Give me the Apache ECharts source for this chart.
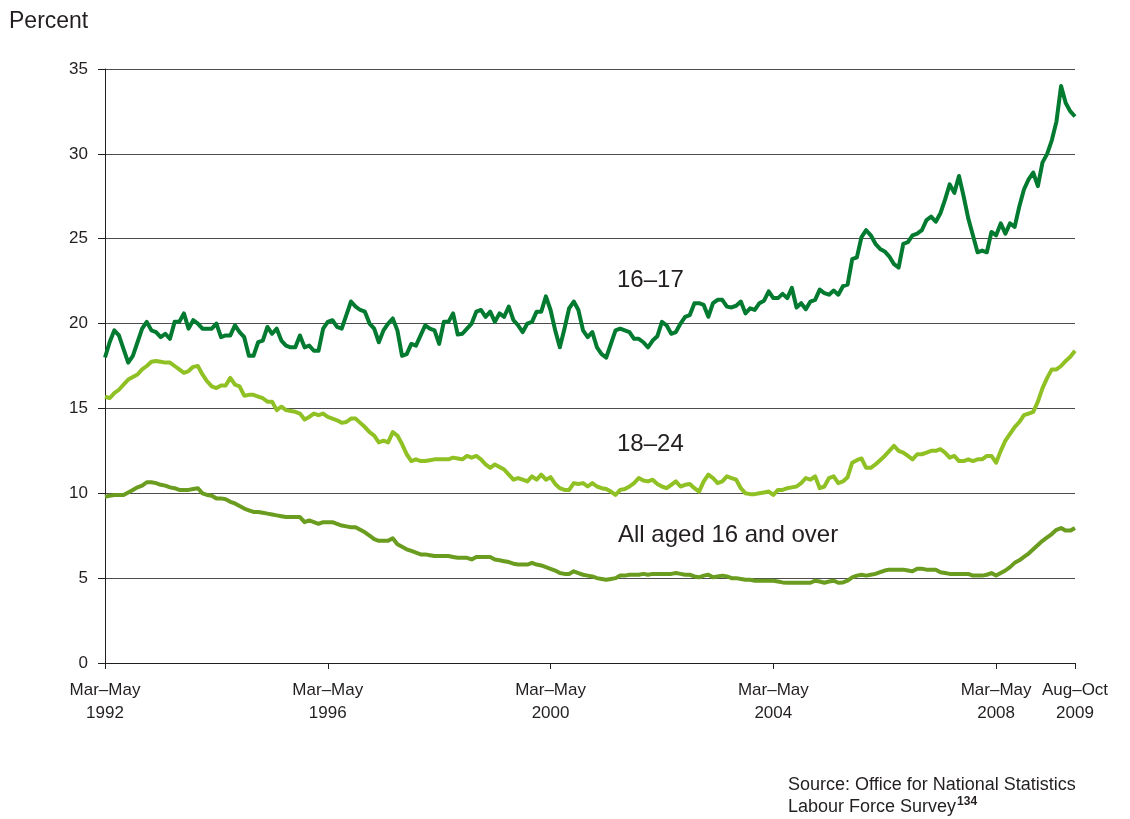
<!DOCTYPE html>
<html>
<head>
<meta charset="utf-8">
<script src="https://cdn.jsdelivr.net/npm/echarts@6/dist/echarts.min.js"></script>
<style>
  html, body { margin: 0; padding: 0; background: #fff; }
  #chart { width: 1130px; height: 819px; }
</style>
</head>
<body>
<div id="chart"></div>
<script>
// rolling quarters, Mar-May 1992 .. Aug-Oct 2009
const quarterNames = ['Jan–Mar', 'Feb–Apr', 'Mar–May', 'Apr–Jun', 'May–Jul', 'Jun–Aug',
  'Jul–Sep', 'Aug–Oct', 'Sep–Nov', 'Oct–Dec', 'Nov–Jan', 'Dec–Feb']
const startYear = 1992
const startMonth = 2   // Mar-May
const labelIndexes = [0, 48, 96, 144, 192, 209]

// 16-17
const age1617 = [
  18.0, 18.9, 19.6, 19.3, 18.5, 17.7, 18.1, 18.9, 19.7, 20.1,
  19.6, 19.5, 19.2, 19.4, 19.1, 20.1, 20.1, 20.6, 19.7, 20.2,
  20.0, 19.7, 19.7, 19.7, 20.0, 19.2, 19.3, 19.3, 19.9, 19.5,
  19.2, 18.1, 18.1, 18.9, 19.0, 19.8, 19.4, 19.7, 19.0, 18.7,
  18.6, 18.6, 19.3, 18.6, 18.7, 18.4, 18.4, 19.7, 20.1, 20.2,
  19.8, 19.7, 20.5, 21.3, 21.0, 20.8, 20.7, 20.0, 19.7, 18.9,
  19.6, 20.0, 20.3, 19.6, 18.1, 18.2, 18.8, 18.7, 19.3, 19.9,
  19.7, 19.6, 18.8, 20.1, 20.1, 20.6, 19.35, 19.4, 19.7, 20.0,
  20.7, 20.8, 20.4, 20.7, 20.1, 20.6, 20.4, 21.0, 20.2, 19.9,
  19.5, 20.0, 20.1, 20.7, 20.7, 21.6, 20.8, 19.6, 18.6, 19.7,
  20.9, 21.3, 20.8, 19.6, 19.2, 19.5, 18.6, 18.2, 18.0, 18.8,
  19.6, 19.7, 19.6, 19.5, 19.1, 19.1, 18.9, 18.6, 19.0, 19.25,
  20.1, 19.9, 19.4, 19.5, 20.0, 20.4, 20.5, 21.2, 21.2, 21.1,
  20.4, 21.2, 21.4, 21.4, 21.0, 20.95, 21.05, 21.3, 20.6, 20.9,
  20.8, 21.2, 21.35, 21.9, 21.5, 21.5, 21.75, 21.5, 22.1, 20.95,
  21.2, 20.85, 21.3, 21.4, 22.0, 21.8, 21.7, 21.95, 21.7, 22.2,
  22.3, 23.8, 23.9, 25.1, 25.5, 25.2, 24.7, 24.4, 24.25, 23.95,
  23.5, 23.3, 24.7, 24.8, 25.2, 25.3, 25.5, 26.1, 26.3, 26.0,
  26.5, 27.3, 28.2, 27.7, 28.7, 27.5, 26.2, 25.2, 24.2, 24.3,
  24.2, 25.4, 25.2, 25.9, 25.3, 25.9, 25.7, 26.9, 27.9, 28.5,
  28.9, 28.1, 29.5, 30.0, 30.8, 31.9, 34.0, 33.0, 32.5, 32.2
]

// 18-24
const age1824 = [
  15.7, 15.6, 15.9, 16.1, 16.4, 16.7, 16.85, 17.0, 17.3, 17.5,
  17.75, 17.8, 17.75, 17.7, 17.7, 17.5, 17.3, 17.1, 17.2, 17.45,
  17.5, 17.0, 16.6, 16.3, 16.2, 16.35, 16.35, 16.8, 16.4, 16.3,
  15.75, 15.8, 15.8, 15.7, 15.6, 15.4, 15.4, 14.9, 15.1, 14.9,
  14.85, 14.8, 14.7, 14.35, 14.5, 14.7, 14.6, 14.7, 14.5, 14.4,
  14.3, 14.15, 14.2, 14.4, 14.4, 14.15, 13.9, 13.6, 13.4, 13.0,
  13.1, 13.0, 13.6, 13.4, 12.9, 12.3, 11.9, 12.0, 11.9, 11.9,
  11.95, 12.0, 12.0, 12.0, 12.0, 12.1, 12.05, 12.0, 12.2, 12.1,
  12.2, 12.0, 11.7, 11.5, 11.7, 11.55, 11.4, 11.1, 10.8, 10.9,
  10.8, 10.7, 11.0, 10.8, 11.1, 10.8, 10.95, 10.55, 10.3, 10.2,
  10.2, 10.6, 10.55, 10.6, 10.4, 10.6, 10.4, 10.3, 10.25, 10.1,
  9.9, 10.2, 10.25, 10.4, 10.6, 10.9, 10.75, 10.7, 10.8, 10.55,
  10.4, 10.3, 10.5, 10.7, 10.4, 10.5, 10.55, 10.3, 10.1, 10.7,
  11.1, 10.9, 10.6, 10.7, 11.0, 10.9, 10.8, 10.3, 10.0, 9.95,
  9.95, 10.0, 10.05, 10.1, 9.9, 10.2, 10.2, 10.3, 10.35, 10.4,
  10.6, 10.9, 10.8, 11.0, 10.3, 10.4, 10.9, 11.0, 10.6, 10.7,
  10.95, 11.8, 11.95, 12.05, 11.5, 11.5, 11.7, 11.95, 12.2, 12.5,
  12.8, 12.5, 12.4, 12.2, 12.0, 12.3, 12.3, 12.4, 12.5, 12.5,
  12.6, 12.4, 12.1, 12.2, 11.9, 11.9, 12.0, 11.9, 12.0, 12.0,
  12.2, 12.2, 11.8, 12.5, 13.1, 13.5, 13.9, 14.2, 14.6, 14.7,
  14.8, 15.4, 16.2, 16.8, 17.3, 17.3, 17.5, 17.8, 18.05, 18.4
]

// all aged 16 and over
const ageAll = [
  9.8, 9.85, 9.9, 9.9, 9.9, 10.05, 10.2, 10.35, 10.45, 10.65,
  10.65, 10.6, 10.5, 10.45, 10.35, 10.3, 10.2, 10.2, 10.2, 10.25,
  10.3, 10.0, 9.9, 9.85, 9.7, 9.7, 9.65, 9.5, 9.4, 9.25,
  9.1, 9.0, 8.9, 8.9, 8.85, 8.8, 8.75, 8.7, 8.65, 8.6,
  8.6, 8.6, 8.6, 8.3, 8.4, 8.3, 8.2, 8.3, 8.3, 8.3,
  8.2, 8.1, 8.05, 8.0, 8.0, 7.85, 7.7, 7.5, 7.3, 7.2,
  7.2, 7.2, 7.35, 7.0, 6.85, 6.7, 6.6, 6.5, 6.4, 6.4,
  6.35, 6.3, 6.3, 6.3, 6.3, 6.25, 6.2, 6.2, 6.2, 6.1,
  6.25, 6.25, 6.25, 6.25, 6.1, 6.05, 6.0, 5.95, 5.85, 5.8,
  5.8, 5.8, 5.9, 5.8, 5.75, 5.65, 5.55, 5.45, 5.3, 5.25,
  5.25, 5.4, 5.3, 5.2, 5.15, 5.1, 5.0, 4.95, 4.9, 4.95,
  5.0, 5.15, 5.15, 5.2, 5.2, 5.2, 5.25, 5.2, 5.25, 5.25,
  5.25, 5.25, 5.25, 5.3, 5.25, 5.2, 5.2, 5.1, 5.05, 5.15,
  5.2, 5.05, 5.1, 5.15, 5.1, 5.0, 5.0, 4.95, 4.9, 4.9,
  4.85, 4.85, 4.85, 4.85, 4.85, 4.8, 4.75, 4.73, 4.73, 4.73,
  4.73, 4.73, 4.73, 4.85, 4.8, 4.73, 4.8, 4.85, 4.73, 4.75,
  4.85, 5.05, 5.15, 5.2, 5.15, 5.2, 5.25, 5.35, 5.45, 5.5,
  5.5, 5.5, 5.5, 5.45, 5.4, 5.55, 5.55, 5.5, 5.5, 5.5,
  5.35, 5.3, 5.25, 5.25, 5.25, 5.25, 5.25, 5.15, 5.15, 5.15,
  5.2, 5.3, 5.15, 5.3, 5.45, 5.65, 5.9, 6.05, 6.25, 6.45,
  6.7, 6.95, 7.2, 7.4, 7.6, 7.85, 7.95, 7.8, 7.8, 7.95
]

// category labels: "Mar–May\n1992" etc (year = middle month's year)
const categories = age1617.map(function (v, i) {
  const m = startMonth + i
  const mid = m + 1
  const year = startYear + Math.floor(mid / 12)
  return quarterNames[m % 12] + '\n' + year
})

const font = "'Liberation Sans', Arial, Helvetica, sans-serif"
const textColor = '#231f20'

const showAt = function (index) {
  return labelIndexes.indexOf(index) !== -1
}

const option = {
  animation: false,
  textStyle: { fontFamily: font },
  grid: { left: 105, right: 55, top: 69, bottom: 156 },
  xAxis: {
    type: 'category',
    boundaryGap: false,
    data: categories,
    axisLine: { lineStyle: { color: '#231f20', width: 1 } },
    axisTick: { show: true, interval: showAt, length: 6, lineStyle: { color: '#231f20' } },
    axisLabel: {
      interval: showAt,
      color: textColor,
      fontSize: 17,
      lineHeight: 23,
      margin: 16,
      fontFamily: font
    },
    splitLine: { show: false }
  },
  yAxis: {
    type: 'value',
    min: 0,
    max: 35,
    interval: 5,
    axisLine: { show: true, lineStyle: { color: '#231f20', width: 1 } },
    axisTick: { show: true, length: 7, lineStyle: { color: '#231f20' } },
    axisLabel: { color: textColor, fontSize: 17, margin: 17, fontFamily: font },
    splitLine: { lineStyle: { color: '#4d4d4d', width: 1 } }
  },
  series: [
    {
      name: 'All aged 16 and over',
      type: 'line',
      data: ageAll,
      showSymbol: false,
      lineStyle: { color: '#6a9c1f', width: 4, join: 'round' },
      itemStyle: { color: '#6a9c1f' }
    },
    {
      name: '18–24',
      type: 'line',
      data: age1824,
      showSymbol: false,
      lineStyle: { color: '#8fc024', width: 4, join: 'round' },
      itemStyle: { color: '#8fc024' }
    },
    {
      name: '16–17',
      type: 'line',
      data: age1617,
      showSymbol: false,
      lineStyle: { color: '#027a30', width: 4, join: 'round' },
      itemStyle: { color: '#027a30' }
    }
  ],
  graphic: [
    { type: 'text', left: 9, top: 10, style: { text: 'Percent', fill: textColor, font: '23px ' + font } },
    { type: 'text', left: 617, top: 268, style: { text: '16–17', fill: textColor, font: '24px ' + font } },
    { type: 'text', left: 617, top: 432, style: { text: '18–24', fill: textColor, font: '24px ' + font } },
    { type: 'text', left: 618, top: 523, style: { text: 'All aged 16 and over', fill: textColor, font: '24px ' + font } },
    {
      type: 'text', left: 788, top: 774,
      style: {
        text: 'Source: Office for National Statistics\n{n|Labour Force Survey}{sup|134}',
        fill: textColor,
        font: '18px ' + font,
        lineHeight: 22,
        rich: {
          n: { fontSize: 18, fontFamily: font, fill: textColor, lineHeight: 22 },
          sup: { fontSize: 12, fontWeight: 'bold', fontFamily: font, fill: textColor, verticalAlign: 'top', padding: [0, 0, 9, 1] }
        }
      }
    }
  ]
}

const chart = echarts.init(document.getElementById('chart'))
chart.setOption(option)
</script>
</body>
</html>
